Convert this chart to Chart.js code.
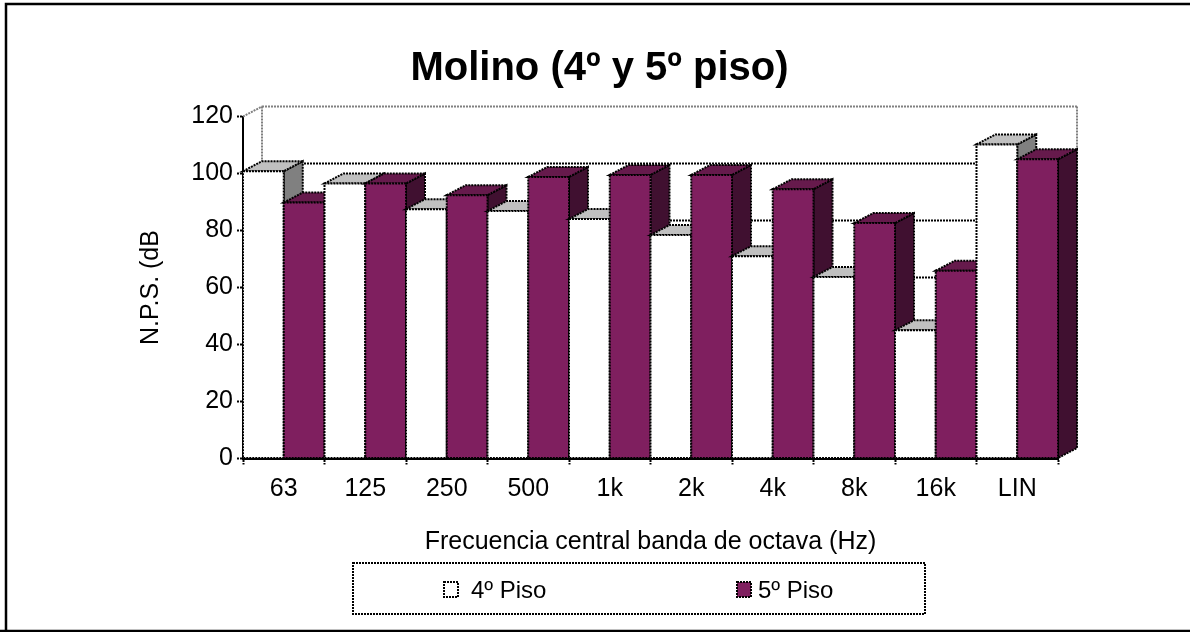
<!DOCTYPE html>
<html>
<head>
<meta charset="utf-8">
<title>Molino</title>
<style>
html,body{margin:0;padding:0;background:#fff;}
#wrap{position:relative;width:1190px;height:632px;}
</style>
<script src="https://cdn.jsdelivr.net/npm/chart.js@4"></script>
</head>
<body>
<div id="wrap"><canvas id="grafico"></canvas></div>
<script>
// octave band levels, two floors
const categories=["63","125","250","500","1k","2k","4k","8k","16k","LIN"];
const piso4=[100.8,96.5,87.5,86.8,84,78.4,71,63.7,45,110.2];
const piso5=[89.8,96.5,92.4,98.8,99.5,99.5,94.5,82.6,65.9,105];
const yTicks=[0,20,40,60,80,100,120];

const FONT="'Liberation Sans', Arial, sans-serif";
const DOTS=[2,1];
const DEPTH_X=19, DEPTH_Y=10;

const caras={
  "4º Piso":{front:"#ffffff",top:"#c0c0c0",side:"#808080"},
  "5º Piso":{front:"#7f1f5f",top:"#661a4c",side:"#401030"}
};

function poly(c,pts,fill){
  c.beginPath();
  pts.forEach((p,i)=>i?c.lineTo(p[0],p[1]):c.moveTo(p[0],p[1]));
  c.closePath();
  c.fillStyle=fill;
  c.fill();
  c.stroke();
}

function line(c,x1,y1,x2,y2){
  c.beginPath();
  c.moveTo(x1,y1);
  c.lineTo(x2,y2);
  c.stroke();
}

// back wall of the 3d box
const fondo={
  id:"fondo",
  beforeDatasetsDraw(chart){
    const c=chart.ctx, a=chart.chartArea, y=chart.scales.y;
    c.save();
    c.setLineDash(DOTS);
    c.lineWidth=2;
    c.strokeStyle="#000";
    yTicks.filter(v=>v>0&&v<120).forEach(v=>{
      line(c,a.left+DEPTH_X,y.getPixelForValue(v)-DEPTH_Y,a.right+DEPTH_X,y.getPixelForValue(v)-DEPTH_Y);
    });
    c.strokeStyle="#808080";
    line(c,a.left,a.top,a.left+DEPTH_X,a.top-DEPTH_Y);
    line(c,a.left+DEPTH_X,a.top-DEPTH_Y,a.right+DEPTH_X,a.top-DEPTH_Y);
    line(c,a.left+DEPTH_X,a.top-DEPTH_Y,a.left+DEPTH_X,a.bottom-DEPTH_Y);
    line(c,a.right+DEPTH_X,a.top-DEPTH_Y,a.right+DEPTH_X,a.bottom-DEPTH_Y);
    c.restore();
  }
};

// bars are painted left to right so each box covers the one behind it
const barras3d={
  id:"barras3d",
  beforeDatasetDraw(){
    return false;
  },
  afterDatasetsDraw(chart){
    const c=chart.ctx;
    const metas=chart.getSortedVisibleDatasetMetas();
    c.save();
    c.lineWidth=2;
    c.strokeStyle="#000";
    c.setLineDash(DOTS);
    categories.forEach((_,i)=>{
      metas.forEach(m=>{
        const el=m.data[i];
        const col=caras[chart.data.datasets[m.index].label];
        const l=el.x-el.width/2, r=el.x+el.width/2, t=el.y, b=el.base;
        poly(c,[[r,t],[r+DEPTH_X,t-DEPTH_Y],[r+DEPTH_X,b-DEPTH_Y],[r,b]],col.side);
        poly(c,[[l,t],[l+DEPTH_X,t-DEPTH_Y],[r+DEPTH_X,t-DEPTH_Y],[r,t]],col.top);
        poly(c,[[l,t],[r,t],[r,b],[l,b]],col.front);
      });
    });
    c.restore();
  }
};

// boxed legend and page frame
const marco={
  id:"marco",
  afterDraw(chart){
    const c=chart.ctx;
    c.save();
    c.strokeStyle="#000";
    c.lineWidth=2.5;
    c.beginPath();
    c.moveTo(6,631);
    c.lineTo(6,4);
    c.lineTo(1190,4);
    c.moveTo(0,631);
    c.lineTo(1190,631);
    c.stroke();

    c.lineWidth=2;
    c.setLineDash(DOTS);
    c.strokeRect(353,563,572,51);
    c.font="24px "+FONT;
    c.textBaseline="middle";
    const xs=[444,737];
    chart.data.datasets.forEach((d,i)=>{
      c.fillStyle=caras[d.label].front;
      c.fillRect(xs[i],582,14,15);
      c.strokeRect(xs[i],582,14,15);
      c.fillStyle="#000";
      c.fillText(d.label,xs[i]+(i?21:27),591);
    });
    c.restore();
  }
};

new Chart(document.getElementById("grafico"),{
  type:"bar",
  data:{
    labels:categories,
    datasets:[
      {label:"4º Piso",data:piso4,backgroundColor:caras["4º Piso"].front},
      {label:"5º Piso",data:piso5,backgroundColor:caras["5º Piso"].front}
    ]
  },
  plugins:[fondo,barras3d,marco],
  options:{
    responsive:true,
    maintainAspectRatio:false,
    animation:false,
    layout:{padding:{left:141,right:132,top:45,bottom:75}},
    datasets:{bar:{barPercentage:1,categoryPercentage:1}},
    plugins:{
      legend:{display:false},
      tooltip:{enabled:false},
      title:{
        display:true,
        text:"Molino (4º y 5º piso)",
        color:"#000",
        font:{family:FONT,size:40,weight:"bold"},
        padding:{top:0,bottom:23.5}
      }
    },
    scales:{
      x:{
        offset:true,
        afterFit(s){ s.height=98.5; },
        border:{color:"#000",width:2},
        grid:{offset:true,drawOnChartArea:false,tickLength:6,tickColor:"#000",tickBorderDash:DOTS,tickWidth:2},
        ticks:{color:"#000",font:{family:FONT,size:25},padding:10,maxRotation:0},
        title:{display:true,text:"Frecuencia central banda de octava (Hz)",color:"#000",font:{family:FONT,size:25},padding:0}
      },
      y:{
        min:0,max:120,
        afterFit(s){ s.width=102; },
        afterBuildTicks(s){ s.ticks=yTicks.map(v=>({value:v})); },
        border:{color:"#000",width:2,dash:DOTS},
        grid:{drawOnChartArea:false,tickLength:6,tickColor:"#000",tickBorderDash:DOTS,tickWidth:2},
        ticks:{color:"#000",font:{family:FONT,size:25},padding:4},
        title:{display:true,text:"N.P.S. (dB",color:"#000",font:{family:FONT,size:25},padding:{top:-5,bottom:0}}
      }
    }
  }
});
</script>
</body>
</html>
